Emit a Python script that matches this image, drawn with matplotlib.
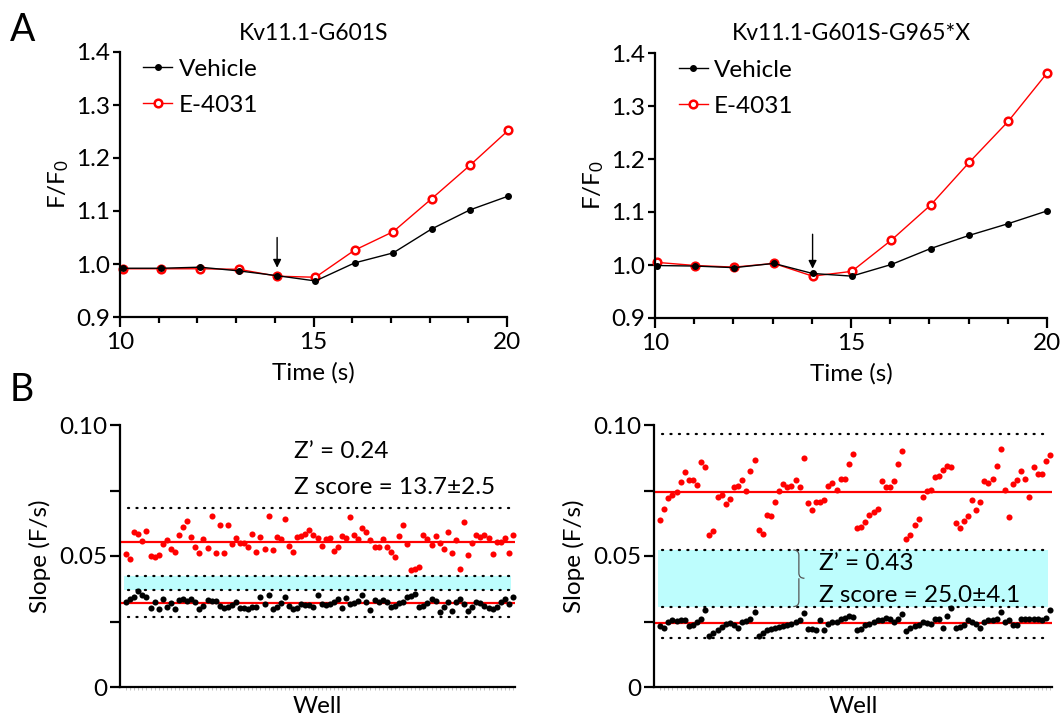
import numpy as np
import matplotlib
matplotlib.use("Agg")
import matplotlib.pyplot as plt
from matplotlib.path import Path
from matplotlib.patches import PathPatch

FONT = "Lato"
plt.rcParams['font.family'] = [FONT, 'DejaVu Sans']
plt.rcParams['mathtext.fontset'] = 'custom'
plt.rcParams['mathtext.rm'] = FONT
plt.rcParams['mathtext.it'] = FONT

# ---- panel A: F/F0 traces ----
t_left = [10.08, 11.07, 12.07, 13.07, 14.06, 15.05, 16.06, 17.06, 18.05, 19.04, 20.03]
veh_left = [0.992, 0.992, 0.994, 0.987, 0.978, 0.968, 1.002, 1.021, 1.066, 1.102, 1.128]
e4031_left = [0.991, 0.991, 0.991, 0.990, 0.977, 0.975, 1.026, 1.061, 1.123, 1.186, 1.252]

t_right = [10.04, 11.03, 12.02, 13.03, 14.02, 15.02, 16.03, 17.03, 18.02, 19.01, 20.0]
veh_right = [0.999, 0.998, 0.995, 1.003, 0.984, 0.979, 1.001, 1.031, 1.056, 1.078, 1.102]
e4031_right = [1.005, 0.999, 0.996, 1.003, 0.979, 0.988, 1.047, 1.113, 1.194, 1.271, 1.362]

titles = ["Kv11.1-G601S", "Kv11.1-G601S-G965*X"]
arrow_x = [14.06, 14.02]
arrow_top = [1.050, 1.058]

# ---- panel B: slopes per well ----
pos_left = [0.0506, 0.0489, 0.0590, 0.0585, 0.0556, 0.0597, 0.0501, 0.0495, 0.0504, 0.0546,
            0.0562, 0.0525, 0.0517, 0.0580, 0.0612, 0.0634, 0.0574, 0.0536, 0.0513, 0.0565,
            0.0532, 0.0653, 0.0510, 0.0617, 0.0510, 0.0618, 0.0545, 0.0570, 0.0548, 0.0551,
            0.0534, 0.0583, 0.0514, 0.0573, 0.0525, 0.0653, 0.0522, 0.0571, 0.0565, 0.0640,
            0.0538, 0.0517, 0.0574, 0.0576, 0.0585, 0.0599, 0.0580, 0.0567, 0.0538, 0.0564,
            0.0569, 0.0520, 0.0534, 0.0576, 0.0567, 0.0648, 0.0581, 0.0564, 0.0608, 0.0593,
            0.0561, 0.0533, 0.0533, 0.0564, 0.0533, 0.0517, 0.0497, 0.0576, 0.0618, 0.0546,
            0.0447, 0.0449, 0.0457, 0.0581, 0.0565, 0.0542, 0.0576, 0.0551, 0.0527, 0.0590,
            0.0510, 0.0561, 0.0452, 0.0629, 0.0503, 0.0551, 0.0580, 0.0573, 0.0580, 0.0569,
            0.0506, 0.0555, 0.0554, 0.0569, 0.0510, 0.0581]
neg_left = [0.0326, 0.0335, 0.0342, 0.0366, 0.0352, 0.0342, 0.0302, 0.0324, 0.0298, 0.0335,
            0.0304, 0.0322, 0.0299, 0.0332, 0.0336, 0.0329, 0.0336, 0.0324, 0.0298, 0.0309,
            0.0332, 0.0329, 0.0327, 0.0310, 0.0302, 0.0304, 0.0312, 0.0323, 0.0300, 0.0302,
            0.0299, 0.0304, 0.0307, 0.0342, 0.0317, 0.0351, 0.0298, 0.0304, 0.0322, 0.0342,
            0.0309, 0.0299, 0.0300, 0.0318, 0.0312, 0.0312, 0.0307, 0.0351, 0.0316, 0.0313,
            0.0316, 0.0326, 0.0337, 0.0300, 0.0341, 0.0317, 0.0319, 0.0329, 0.0352, 0.0326,
            0.0294, 0.0332, 0.0326, 0.0332, 0.0323, 0.0307, 0.0309, 0.0319, 0.0326, 0.0342,
            0.0347, 0.0355, 0.0307, 0.0309, 0.0319, 0.0335, 0.0328, 0.0288, 0.0304, 0.0326,
            0.0291, 0.0323, 0.0335, 0.0316, 0.0291, 0.0304, 0.0323, 0.0319, 0.0309, 0.0300,
            0.0296, 0.0307, 0.0323, 0.0335, 0.0317, 0.0345]

pos_right = [0.0638, 0.0679, 0.0721, 0.0734, 0.0746, 0.0784, 0.0822, 0.0790, 0.0790, 0.0771, 0.0857, 0.0838,
             0.0580, 0.0597, 0.0727, 0.0734, 0.0698, 0.0718, 0.0765, 0.0768, 0.0790, 0.0749, 0.0825, 0.0866,
             0.0601, 0.0585, 0.0655, 0.0652, 0.0708, 0.0749, 0.0775, 0.0763, 0.0768, 0.0790, 0.0764, 0.0875,
             0.0702, 0.0674, 0.0708, 0.0708, 0.0715, 0.0769, 0.0778, 0.0753, 0.0794, 0.0794, 0.0850, 0.0891,
             0.0607, 0.0610, 0.0629, 0.0658, 0.0668, 0.0678, 0.0788, 0.0763, 0.0763, 0.0788, 0.0850, 0.0900,
             0.0563, 0.0582, 0.0617, 0.0643, 0.0727, 0.0749, 0.0753, 0.0803, 0.0807, 0.0827, 0.0845, 0.0841,
             0.0626, 0.0607, 0.0635, 0.0654, 0.0715, 0.0677, 0.0707, 0.0788, 0.0778, 0.0794, 0.0843, 0.0910,
             0.0753, 0.0649, 0.0775, 0.0790, 0.0825, 0.0793, 0.0727, 0.0838, 0.0813, 0.0813, 0.0862, 0.0885]
neg_right = [0.0232, 0.0226, 0.0250, 0.0254, 0.0251, 0.0254, 0.0256, 0.0231, 0.0237, 0.0247, 0.0260, 0.0295,
             0.0194, 0.0207, 0.0218, 0.0228, 0.0241, 0.0245, 0.0237, 0.0227, 0.0247, 0.0251, 0.0258, 0.0288,
             0.0194, 0.0207, 0.0216, 0.0222, 0.0226, 0.0228, 0.0232, 0.0237, 0.0241, 0.0247, 0.0254, 0.0283,
             0.0222, 0.0220, 0.0216, 0.0254, 0.0216, 0.0241, 0.0247, 0.0250, 0.0258, 0.0263, 0.0270, 0.0266,
             0.0216, 0.0222, 0.0235, 0.0241, 0.0247, 0.0254, 0.0254, 0.0263, 0.0258, 0.0250, 0.0260, 0.0279,
             0.0212, 0.0225, 0.0232, 0.0235, 0.0247, 0.0245, 0.0241, 0.0260, 0.0258, 0.0225, 0.0270, 0.0300,
             0.0225, 0.0228, 0.0235, 0.0254, 0.0247, 0.0241, 0.0225, 0.0247, 0.0254, 0.0256, 0.0258, 0.0285,
             0.0247, 0.0254, 0.0237, 0.0235, 0.0258, 0.0260, 0.0260, 0.0260, 0.0258, 0.0254, 0.0263, 0.0292]

# means and mean +/- 3 SD lines
pos_mean = [0.0553, 0.0746]
neg_mean = [0.0320, 0.0246]
pos_low = [0.0424, 0.0523]
pos_high = [0.0683, 0.0966]
neg_high = [0.0370, 0.0307]
neg_low = [0.0267, 0.0186]
zprime = ["Z\u2019 = 0.24", "Z\u2019 = 0.43"]
zscore = ["Z score = 13.7\u00b12.5", "Z score = 25.0\u00b14.1"]

FS = 17.5
W, H = 1062, 719
fig = plt.figure(figsize=(W / 100, H / 100), dpi=100)


def px_axes(x0, x1, ytop, ybot):
    return fig.add_axes([x0 / W, 1 - ybot / H, (x1 - x0) / W, (ybot - ytop) / H])


def style(ax):
    for s in ['top', 'right']:
        ax.spines[s].set_visible(False)
    for s in ['left', 'bottom']:
        ax.spines[s].set_linewidth(1.6)
    ax.tick_params(which='major', direction='out', length=5, width=1.6, labelsize=FS, pad=2)
    ax.tick_params(which='minor', direction='out', length=5, width=1.6)


axA = [px_axes(120, 507, 52, 317), px_axes(655, 1047, 53, 318)]
dataA = [(t_left, veh_left, e4031_left), (t_right, veh_right, e4031_right)]

for i, ax in enumerate(axA):
    t, veh, e40 = dataA[i]
    style(ax)
    ax.plot(t, veh, '-', color='black', lw=1.0, marker='o', ms=4, mfc='black', mec='black',
            label='Vehicle', clip_on=False, zorder=3)
    ax.plot(t, e40, '-', color='red', lw=1.0, marker='o', ms=5.5, mfc='white', mec='red', mew=1.8,
            label='E-4031', clip_on=False, zorder=2)
    ax.set_xlim(10, 20)
    ax.set_ylim(0.9, 1.4)
    ax.set_xticks([10, 15, 20])
    ax.set_xticks(np.arange(10, 21), minor=True)
    ax.tick_params(axis='x', which='major', length=7, pad=4)
    ax.tick_params(axis='x', which='minor', length=4)
    ax.set_yticks(np.arange(0.9, 1.41, 0.1))
    ax.set_yticklabels(['0.9', '1.0', '1.1', '1.2', '1.3', '1.4'])
    ax.set_xlabel('Time (s)', fontsize=FS, labelpad=6)
    ax.set_ylabel('F/F$_0$', fontsize=FS, labelpad=4)
    ax.set_title(titles[i], fontsize=16.5, pad=9)
    ax.annotate('', xy=(arrow_x[i], 0.993), xytext=(arrow_x[i], arrow_top[i]),
                arrowprops=dict(arrowstyle='-|>', color='black', lw=1.0, mutation_scale=12,
                                shrinkA=0, shrinkB=0))
    ax.legend(loc='upper left', bbox_to_anchor=(0.06, 0.975), frameon=False, fontsize=FS,
              handlelength=1.2, handletextpad=0.25, labelspacing=0.62, borderpad=0, borderaxespad=0)

axB = [px_axes(120, 515, 425, 687), px_axes(654, 1052, 425, 687)]
dataB = [(pos_left, neg_left), (pos_right, neg_right)]
wells = np.arange(96)

for i, ax in enumerate(axB):
    pos, neg = dataB[i]
    style(ax)
    ax.set_xlim(-1.5, 95.5)
    ax.set_ylim(0, 0.10)
    ax.axhspan(pos_low[i], neg_high[i], xmin=0.01, xmax=0.99, color='#bdfdfd', lw=0, zorder=0)
    for y in [pos_high[i], pos_low[i], neg_high[i], neg_low[i]]:
        ax.plot([0.5, 94.5], [y, y], color='black', lw=1.6, linestyle=(0, (0.5, 3.3)),
                dash_capstyle='round', zorder=1)
    ax.plot(wells, pos, 'o', color='red', ms=4.4, mec='none', zorder=3, clip_on=False)
    ax.plot(wells, neg, 'o', color='black', ms=4.4, mec='none', zorder=3, clip_on=False)
    ax.plot([-1.5, 95.5], [pos_mean[i]] * 2, color='red', lw=1.6, zorder=2)
    ax.plot([-1.5, 95.5], [neg_mean[i]] * 2, color='red', lw=1.6, zorder=2)
    ax.set_yticks([0, 0.05, 0.10])
    ax.set_yticklabels(['0', '0.05', '0.10'])
    ax.set_yticks([0.025, 0.075], minor=True)
    ax.tick_params(axis='y', which='both', length=7)
    ax.set_xticks([])
    ax.set_xticks(wells, minor=True)
    ax.tick_params(axis='x', which='minor', length=2, width=0.5, color='#aaaaaa')
    ax.set_xlabel('Well', fontsize=FS, labelpad=1)
    ax.set_ylabel('Slope (F/s)', fontsize=FS, labelpad=6)

axB[0].text(0.44, 0.0897, zprime[0], transform=axB[0].get_yaxis_transform(), fontsize=FS, va='center')
axB[0].text(0.44, 0.0763, zscore[0], transform=axB[0].get_yaxis_transform(), fontsize=FS, va='center')
axB[1].text(0.415, 0.0473, zprime[1], transform=axB[1].get_yaxis_transform(), fontsize=FS, va='center')
axB[1].text(0.415, 0.0351, zscore[1], transform=axB[1].get_yaxis_transform(), fontsize=FS, va='center')

# curly brace next to the right Z text
tr = axB[1].get_yaxis_transform()
bx, bw = 0.35, 0.014
top, bot = pos_low[1], neg_high[1]
mid = (top + bot) / 2
verts = [(bx, top), (bx + bw, top), (bx + bw, top - 0.002), (bx + bw, mid + 0.002),
         (bx + bw, mid), (bx + 2 * bw, mid), (bx + bw, mid), (bx + bw, mid - 0.002),
         (bx + bw, bot + 0.002), (bx + bw, bot), (bx, bot)]
codes = [Path.MOVETO, Path.CURVE3, Path.CURVE3, Path.LINETO,
         Path.CURVE3, Path.CURVE3, Path.MOVETO, Path.LINETO,
         Path.LINETO, Path.CURVE3, Path.CURVE3]
axB[1].add_patch(PathPatch(Path(verts, codes), transform=tr, fill=False, lw=0.9,
                           edgecolor='#555555', zorder=4))

fig.text(10 / W, 1 - 30 / H, 'A', fontsize=27, va='center', ha='left')
fig.text(10 / W, 1 - 390 / H, 'B', fontsize=27, va='center', ha='left')

fig.savefig('out.png', dpi=100)
